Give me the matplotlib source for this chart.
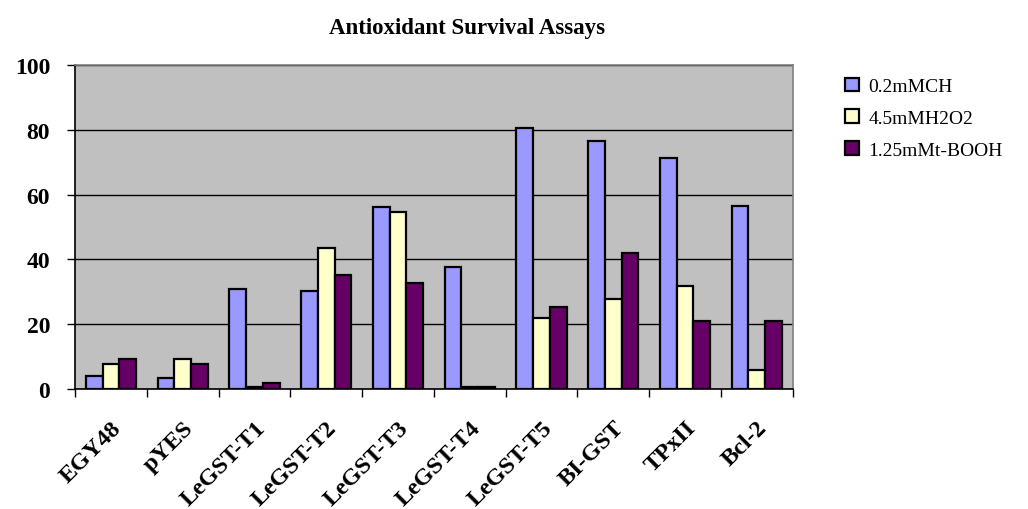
import numpy as np
import matplotlib
matplotlib.use("Agg")
import matplotlib.pyplot as plt

plt.rcParams['font.family'] = ['Liberation Serif', 'DejaVu Serif']

categories = ['EGY48', 'pYES', 'LeGST-T1', 'LeGST-T2', 'LeGST-T3',
              'LeGST-T4', 'LeGST-T5', 'BI-GST', 'TPxII', 'Bcl-2']
ch = [4.2, 3.4, 31.0, 30.2, 56.3, 37.7, 80.6, 76.5, 71.4, 56.4]
h2o2 = [7.6, 9.2, 0.8, 43.6, 54.5, 0.8, 21.9, 27.8, 31.9, 5.8]
tbooh = [9.2, 7.6, 1.8, 35.2, 32.7, 0.8, 25.2, 42.0, 20.9, 20.9]
series = ['0.2mMCH', '4.5mMH2O2', '1.25mMt-BOOH']
colors = ['#9999FF', '#FFFFCC', '#660066']

fig = plt.figure(figsize=(10.28, 5.10), dpi=100)
ax = fig.add_axes([0.073, 0.235, 0.698, 0.636])
ax.set_facecolor('#C0C0C0')

x = np.arange(len(categories))
w = 0.233
for i, (vals, name, c) in enumerate(zip([ch, h2o2, tbooh], series, colors)):
    ax.bar(x + (i - 1) * w, vals, width=w, color=c, edgecolor='black',
           linewidth=1.6, label=name, zorder=3)

ax.set_xlim(-0.5, len(categories) - 0.5)
ax.set_ylim(0, 100)
ax.set_yticks([0, 20, 40, 60, 80, 100])
ax.yaxis.grid(True, color='black', linewidth=1, zorder=1)
ax.set_axisbelow(True)

ax.set_xticks(x)
ax.set_xticklabels(categories, rotation=45, ha='right', rotation_mode='anchor',
                   fontsize=17.5, fontweight='bold')
ax.tick_params(axis='x', which='major', length=0, pad=20)
ax.set_xticks(np.arange(-0.5, len(categories), 1), minor=True)
ax.tick_params(axis='x', which='minor', length=6, width=1, direction='out')
ax.tick_params(axis='y', length=6, width=1, labelsize=17, pad=12)
for lab in ax.get_yticklabels():
    lab.set_fontweight('bold')

ax.spines['left'].set_color('black')
ax.spines['bottom'].set_color('black')
ax.spines['top'].set_color('#808080')
ax.spines['right'].set_color('#808080')
for s in ax.spines.values():
    s.set_linewidth(1.2)

fig.text(0.454, 0.945, 'Antioxidant Survival Assays', ha='center', va='center',
         fontsize=16.5, fontweight='bold')

fig.legend(loc='upper left', bbox_to_anchor=(0.805, 0.88), frameon=False,
           fontsize=14, handlelength=0.7, handleheight=0.7, handletextpad=0.5,
           labelspacing=0.72)

fig.savefig('out.png', dpi=100)
